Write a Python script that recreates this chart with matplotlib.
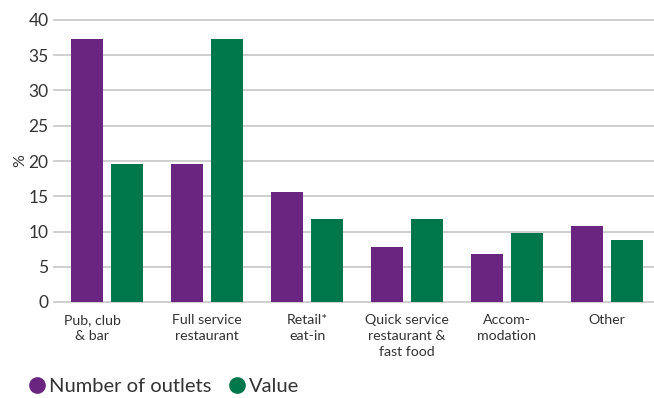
import matplotlib
matplotlib.use("Agg")
import matplotlib.pyplot as plt
import matplotlib.transforms as mtransforms
from matplotlib.lines import Line2D
import numpy as np

plt.rcParams['font.family'] = ['Lato', 'DejaVu Sans']

categories = ["Pub, club\n& bar", "Full service\nrestaurant", "Retail*\neat-in",
              "Quick service\nrestaurant &\nfast food", "Accom-\nmodation", "Other"]
outlets = [37.3, 19.6, 15.6, 7.8, 6.8, 10.8]
value = [19.6, 37.3, 11.8, 11.8, 9.8, 8.8]
yticks = [0, 5, 10, 15, 20, 25, 30, 35, 40]

purple = '#69257f'
green = '#00774a'
text_col = '#333333'

fig = plt.figure(figsize=(6.54, 3.98), dpi=100)
ax = fig.add_axes([54 / 654, 1 - 302 / 398, 600 / 654, 282 / 398])

x = np.arange(len(categories))
w = 0.32
ax.bar(x - 0.2, outlets, w, color=purple, zorder=3)
ax.bar(x + 0.2, value, w, color=green, zorder=3)

ax.set_xlim(-0.53, 5.47)
ax.set_ylim(0, 40)
ax.set_yticks(yticks)
for t in yticks:
    ax.axhline(t, color='#cccccc', lw=1.3, zorder=1, clip_on=False)

for s in ax.spines.values():
    s.set_visible(False)
ax.tick_params(axis='both', length=0)
ax.tick_params(axis='y', labelsize=12.5, labelcolor=text_col, pad=4)
ax.set_xticks(x)
ax.set_xticklabels(categories, fontsize=10.2, color=text_col, linespacing=1.35)
ax.tick_params(axis='x', pad=9)
ax.set_ylabel('%', fontsize=11.5, color=text_col, labelpad=1)

# first label sits a little left of its group in the original
first = ax.get_xticklabels()[0]
first.set_transform(first.get_transform() +
                    mtransforms.ScaledTranslation(-15 / 100, 0, fig.dpi_scale_trans))

handles = [Line2D([], [], marker='o', ls='none', color=purple, markersize=11),
           Line2D([], [], marker='o', ls='none', color=green, markersize=11)]
fig.legend(handles, ['Number of outlets', 'Value'], loc='center left',
           bbox_to_anchor=(0.012, 1 - 386 / 398), ncol=2, frameon=False,
           fontsize=14.5, handletextpad=0.05, columnspacing=0.7,
           labelcolor=text_col, handlelength=1.1)

fig.savefig('out.png', dpi=100, facecolor='white')
